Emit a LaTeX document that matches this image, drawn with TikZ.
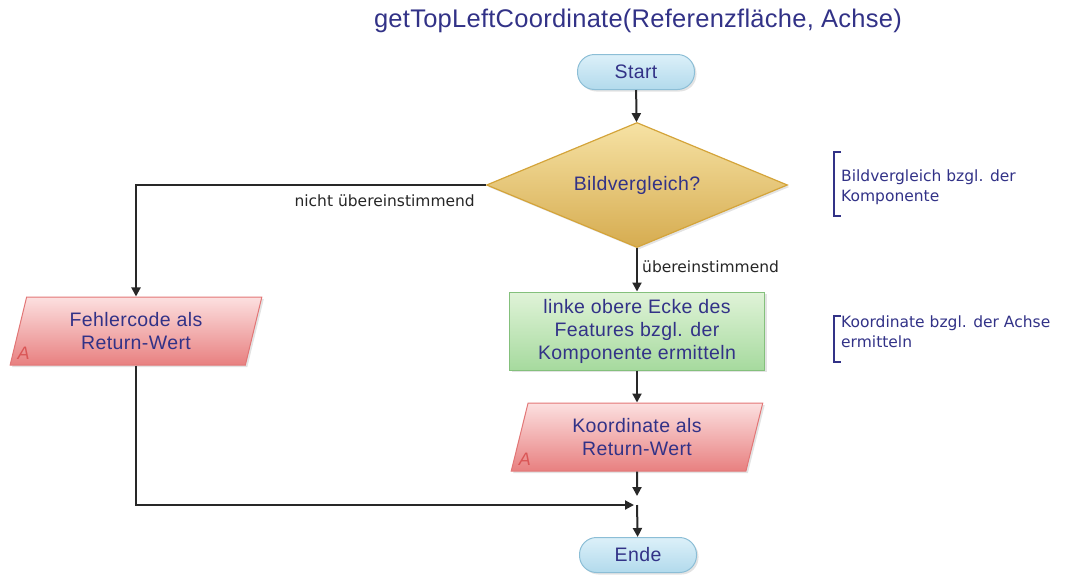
\documentclass[tikz,border=0pt]{standalone}
\usepackage{fontspec}
\setmainfont{Liberation Sans}
\newfontfamily\notefont{DejaVu Sans}
\usetikzlibrary{shapes.geometric,arrows.meta,calc,shadows}
\definecolor{txt}{RGB}{50,50,135}
\definecolor{termfill}{RGB}{220,240,249}
\definecolor{termfillb}{RGB}{178,218,236}
\definecolor{termline}{RGB}{140,190,214}
\definecolor{decfill}{RGB}{246,226,164}
\definecolor{decfillb}{RGB}{214,172,80}
\definecolor{decline}{RGB}{212,164,58}
\definecolor{iofill}{RGB}{252,224,224}
\definecolor{iofillb}{RGB}{232,128,128}
\definecolor{ioline}{RGB}{226,118,118}
\definecolor{iomark}{RGB}{218,86,86}
\definecolor{procfill}{RGB}{224,243,216}
\definecolor{procfillb}{RGB}{166,218,158}
\definecolor{procline}{RGB}{132,192,124}
\definecolor{flow}{RGB}{40,40,40}
\tikzset{
  x=1pt, y=-1pt,
  every node/.style={text=txt, font=\fontsize{19.5}{23}\selectfont\addfontfeature{LetterSpace=2}},
  softshadow/.style={drop shadow={opacity=0.22, shadow xshift=2pt, shadow yshift=-2pt}},
  terminal/.style={draw=termline, line width=1pt, top color=termfill, bottom color=termfillb,
    rounded corners=17pt, minimum width=117pt, minimum height=35pt, inner sep=0pt, softshadow},
  decision/.style={diamond, aspect=2.4, draw=decline, line width=1.2pt, top color=decfill, bottom color=decfillb,
    minimum width=301pt, minimum height=125pt, inner sep=0pt, softshadow},
  process/.style={draw=procline, line width=1pt, top color=procfill, bottom color=procfillb,
    minimum width=255pt, minimum height=78pt, inner sep=0pt, align=center, softshadow},
  output/.style={trapezium, trapezium left angle=75, trapezium right angle=105,
    trapezium stretches=true, draw=ioline, line width=1pt, top color=iofill, bottom color=iofillb,
    minimum width=252pt, minimum height=68pt, inner sep=0pt, align=center, softshadow},
  outmark/.style={text=iomark, font=\fontsize{18}{18}\itshape\selectfont, anchor=south west, inner sep=0pt},
  arr/.style={draw=flow, line width=2pt, -{Triangle[width=9pt,length=9pt]}},
  edgelabel/.style={text=black!85, font=\notefont\fontsize{15.5}{18}\selectfont, inner sep=0pt},
  note/.style={text=txt, font=\notefont\fontsize{15.5}{20}\selectfont, align=left, anchor=west, inner sep=0pt},
  bracket/.style={draw=txt, line width=1.8pt},
}
\begin{document}
\begin{tikzpicture}
\useasboundingbox (0,0) rectangle (1067,574);

% title
\node[font=\fontsize{25.5}{30}\selectfont\addfontfeature{LetterSpace=1}] (title) at (638,21) {getTopLeftCoordinate(Referenzfläche, Achse)};

% flow elements
\node[terminal] (start) at (636,72) {Start};
\node[decision] (dec) at (637,185) {Bildvergleich?};
\node[output] (err) at (136,331) {Fehlercode als\\Return-Wert};
\node[process] (proc) at (637,331) {linke obere Ecke des\\Features bzgl. der\\Komponente ermitteln};
\node[output] (res) at (637,437) {Koordinate als\\Return-Wert};
\node[terminal] (end) at (638,555) {Ende};
\coordinate (join) at (637,505);

% output markers
\node[outmark] (errA) at ($(err.bottom left corner)+(8,-6)$) {A};
\node[outmark] (resA) at ($(res.bottom left corner)+(8,-6)$) {A};

% connectors
\draw[arr] (start) -- (dec);
\draw[arr] (dec.west) -| (err.north);
\draw[arr] (dec.south) -- (proc.north);
\draw[arr] (proc) -- (res);
\draw[arr] (err.south) |- ([xshift=-3pt]join);
\draw[arr, shorten >=9pt] (res.south) -- (join);
\draw[arr] (join) -- (end);

% edge labels
\node[edgelabel, anchor=east] (lno) at (475,201) {nicht übereinstimmend};
\node[edgelabel, anchor=west] (lyes) at (642,267) {übereinstimmend};

% annotations
\draw[bracket] (841,152) -- (834,152) -- (834,216) -- (841,216);
\node[note] (n1) at (841,187.5) {Bildvergleich bzgl. der\\Komponente};
\draw[bracket] (841,316) -- (834,316) -- (834,362) -- (841,362);
\node[note] (n2) at (841,332) {Koordinate bzgl. der Achse\\ermitteln};
\end{tikzpicture}
\end{document}
